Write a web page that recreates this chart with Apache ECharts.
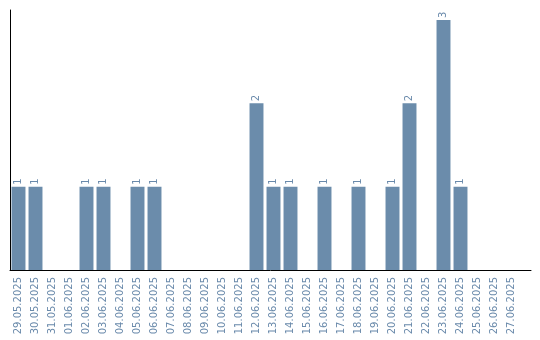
<!DOCTYPE html>
<html><head><meta charset="utf-8">
<script src="https://cdn.jsdelivr.net/npm/echarts@6/dist/echarts.min.js"></script>
<style>html,body{margin:0;padding:0;background:#fff}#c{width:540px;height:340px}</style>
</head><body><div id="c"></div>
<script>
const categories = ["29.05.2025","30.05.2025","31.05.2025","01.06.2025","02.06.2025","03.06.2025","04.06.2025","05.06.2025","06.06.2025","07.06.2025","08.06.2025","09.06.2025","10.06.2025","11.06.2025","12.06.2025","13.06.2025","14.06.2025","15.06.2025","16.06.2025","17.06.2025","18.06.2025","19.06.2025","20.06.2025","21.06.2025","22.06.2025","23.06.2025","24.06.2025","25.06.2025","26.06.2025","27.06.2025"];
const values = [1,1,0,0,1,1,0,1,1,0,0,0,0,0,2,1,1,0,1,0,1,0,1,2,0,3,1,0,0,0];
const chart = echarts.init(document.getElementById('c'), null, {renderer:'canvas'});
chart.setOption({
  animation:false,
  grid:[
    {left:10,right:20,top:10,bottom:70,containLabel:false},
    {left:10,right:9,top:10,bottom:70,containLabel:false}
  ],
  xAxis:[
    {type:'category',data:categories,gridIndex:0,
      axisLine:{show:false},
      axisTick:{show:false},
      axisLabel:{rotate:90,interval:0,color:'#6a8aab',fontSize:10,fontFamily:'DejaVu Sans',margin:7}},
    {type:'value',gridIndex:1,min:0,max:1,
      axisLine:{show:true,onZero:false,lineStyle:{color:'#000',width:1}},
      axisTick:{show:false},axisLabel:{show:false},splitLine:{show:false}}
  ],
  yAxis:[
    {type:'value',min:0,max:3.12,gridIndex:0,
      axisLine:{show:true,lineStyle:{color:'#000',width:1}},
      axisTick:{show:false},axisLabel:{show:false},splitLine:{show:false}},
    {type:'value',gridIndex:1,show:false}
  ],
  series:[{type:'bar',data:values,barCategoryGap:'18%',xAxisIndex:0,yAxisIndex:0,
    itemStyle:{color:'#6b8cab'},
    label:{show:true,position:'top',rotate:90,align:'left',verticalAlign:'middle',distance:2,
      color:'#6a8aab',fontSize:10,fontFamily:'DejaVu Sans',
      formatter:p=>p.value?String(p.value):''}}]
});
</script></body></html>
